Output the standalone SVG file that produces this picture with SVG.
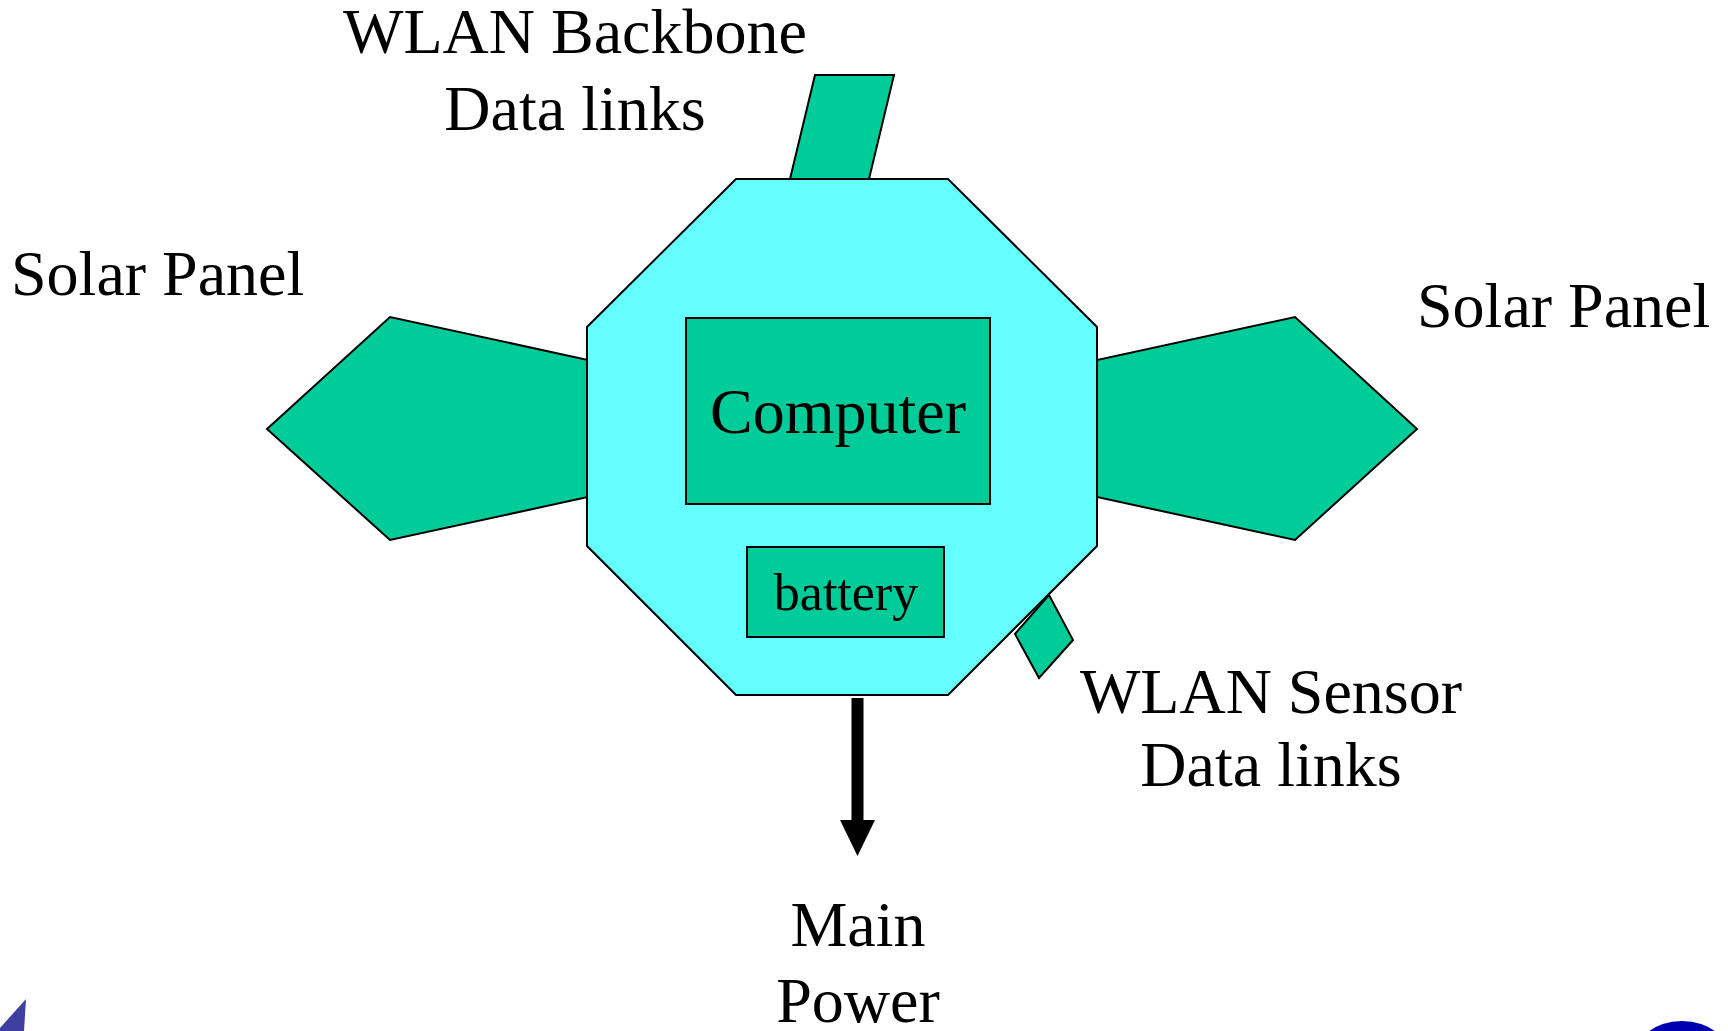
<svg xmlns="http://www.w3.org/2000/svg" width="1728" height="1031" viewBox="0 0 1728 1031">
<style>
.g{fill:#00CC99;stroke:#000;stroke-width:2;stroke-linejoin:miter}
.c{fill:#66FFFF;stroke:#000;stroke-width:2}
.t{font-family:"Liberation Serif","Times New Roman",serif;font-size:64px;fill:#000}
.m{text-anchor:middle}
</style>
<rect width="1728" height="1031" fill="#fff"/>
<g id="backbone-link"><polygon class="g" points="815,75 894,75 869,179 790,179"/></g>
<g id="sensor-link"><polygon class="g" points="1015,634 1049,595 1073,640 1039,678"/></g>
<g id="solar-left"><polygon class="g" points="267,429 390,317 588,360 588,497 390,540"/></g>
<g id="solar-right"><polygon class="g" points="1417,429 1295,317 1097,360 1097,497 1295,540"/></g>
<g id="body"><polygon class="c" points="736,179 948,179 1097,327 1097,546 948,695 736,695 587,546 587,327"/></g>
<g id="computer"><rect class="g" x="686" y="318" width="304" height="186"/><text class="t m" x="838" y="433">Computer</text></g>
<g id="battery"><rect class="g" x="747" y="547" width="197" height="90"/><text class="t m" x="846" y="610" style="font-size:52px">battery</text></g>
<g id="connectors">
<rect x="851.5" y="698" width="12" height="123" fill="#000"/>
<polygon points="840,820 875,820 857.5,856" fill="#000"/>
</g>
<g id="labels">
<text class="t m" x="575" y="53">WLAN Backbone</text>
<text class="t m" x="575" y="130">Data links</text>
<text class="t" x="11" y="295">Solar Panel</text>
<text class="t" x="1417" y="327">Solar Panel</text>
<text class="t m" x="1271" y="713">WLAN Sensor</text>
<text class="t m" x="1271" y="786">Data links</text>
<text class="t m" x="858" y="946">Main</text>
<text class="t m" x="858" y="1022">Power</text>
</g>
<g id="logos">
<polygon points="26,999 24,1031 0,1031 0,1028" fill="#3F3F9F"/>
<ellipse cx="1682" cy="1062" rx="50" ry="41" fill="#0000B0"/>
</g>
</svg>
